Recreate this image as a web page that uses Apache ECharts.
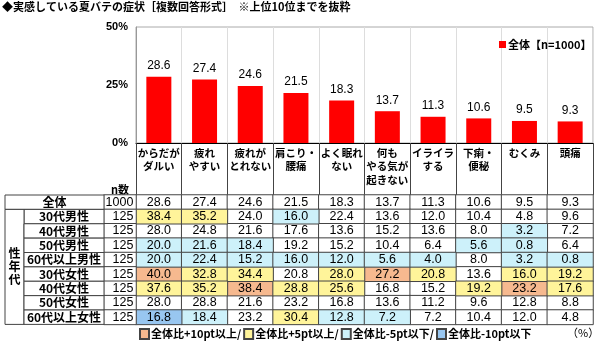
<!DOCTYPE html>
<html>
<head>
<meta charset="utf-8">
<script src="https://cdn.jsdelivr.net/npm/echarts@6/dist/echarts.min.js"></script>
<style>
html,body{margin:0;padding:0;background:#fff;}
#chart{width:600px;height:341px;}
</style>
</head>
<body>
<div id="chart"></div>
<script>
// Symptoms (top 10), shared by the bar chart and the table columns
const categories = ['からだが\nダルい', '疲れ\nやすい', '疲れが\nとれない', '肩こり・\n腰痛', 'よく眠れ\nない', '何も\nやる気が\n起きない', 'イライラ\nする', '下痢・\n便秘', 'むくみ', '頭痛'];

// Whole sample (%)
const totalValues = [28.6, 27.4, 24.6, 21.5, 18.3, 13.7, 11.3, 10.6, 9.5, 9.3];

// Gender x age groups (%)
const male30s   = [38.4, 35.2, 24.0, 16.0, 22.4, 13.6, 12.0, 10.4, 4.8, 9.6];
const male40s   = [28.0, 24.8, 21.6, 17.6, 13.6, 15.2, 13.6, 8.0, 3.2, 7.2];
const male50s   = [20.0, 21.6, 18.4, 19.2, 15.2, 10.4, 6.4, 5.6, 0.8, 6.4];
const male60up  = [20.0, 22.4, 15.2, 16.0, 12.0, 5.6, 4.0, 8.0, 3.2, 0.8];
const female30s = [40.0, 32.8, 34.4, 20.8, 28.0, 27.2, 20.8, 13.6, 16.0, 19.2];
const female40s = [37.6, 35.2, 38.4, 28.8, 25.6, 16.8, 15.2, 19.2, 23.2, 17.6];
const female50s = [28.0, 28.8, 21.6, 23.2, 16.8, 13.6, 11.2, 9.6, 12.8, 8.8];
const female60up= [16.8, 18.4, 23.2, 30.4, 12.8, 7.2, 7.2, 10.4, 12.0, 4.8];

// Table rows
const rowNames = ['全体', '30代男性', '40代男性', '50代男性', '60代以上男性', '30代女性', '40代女性', '50代女性', '60代以上女性'];
const rowN = [1000, 125, 125, 125, 125, 125, 125, 125, 125];
const rowValues = [totalValues, male30s, male40s, male50s, male60up, female30s, female40s, female50s, female60up];

// Y axis ticks (%)
const yMin = 0, yMax = 50, yStep = 25;

const seriesName = '全体【n=1000】';
const groupLabel = '性\n年\n代';
const nHeader = 'n数';

// Highlight classes relative to the whole sample
const classes = [
  { key: 'none', name: '', color: '#ffffff' },
  { key: 'p10', name: '全体比+10pt以上', color: '#F6B98F' },
  { key: 'p5',  name: '全体比+5pt以上',  color: '#FFF49A' },
  { key: 'm5',  name: '全体比-5pt以下',  color: '#CDF1FA' },
  { key: 'm10', name: '全体比-10pt以下', color: '#98C6F0' }
];

function classify(row, col) {
  if (row === 0) return 'none';
  const d = Math.round((rowValues[row][col] - totalValues[col]) * 10) / 10;
  if (d >= 10) return 'p10';
  if (d >= 5) return 'p5';
  if (d <= -10) return 'm10';
  if (d <= -5) return 'm5';
  return 'none';
}

const FONT = '"Liberation Sans", "Noto Sans CJK JP", sans-serif';
const JFONT = '"Noto Sans CJK JP", "Liberation Sans", sans-serif';
const BORDER = '#444';

// Table layout
const tableTop = 195, tableH = 129.4;
const plotLeft = 136, plotRight = 7;
const groupColW = 19;

const cellSeries = classes.map(cls => {
  const data = [];
  rowValues.forEach((vals, r) => {
    vals.forEach((v, c) => {
      if (classify(r, c) === cls.key) data.push([c, r, v]);
    });
  });
  return {
    type: 'heatmap',
    name: cls.name || 'ー',
    xAxisIndex: 1,
    yAxisIndex: 1,
    data: data,
    itemStyle: { color: cls.color, borderColor: BORDER, borderWidth: 1 },
    label: {
      show: true,
      formatter: p => p.value[2].toFixed(1),
      fontFamily: FONT,
      fontSize: 12.5,
      color: '#000'
    },
    emphasis: { disabled: true },
    silent: true
  };
});

const chart = echarts.init(document.getElementById('chart'), null, { renderer: 'canvas' });

chart.setOption({
  backgroundColor: '#fff',
  animation: false,
  title: [
    {
      text: '◆実感している夏バテの症状［複数回答形式］　※上位10位までを抜粋',
      left: 2, top: 1, padding: 0,
      textStyle: { fontFamily: JFONT, fontSize: 11, fontWeight: 'bold', color: '#000' }
    },
    {
      text: '（%）',
      left: 567, top: 327, padding: 0,
      textStyle: { fontFamily: JFONT, fontSize: 11, fontWeight: 'normal', color: '#000' }
    }
  ],
  legend: [
    {
      data: [seriesName],
      left: 499, top: 39, padding: 0,
      icon: 'rect', itemWidth: 7, itemHeight: 7, itemGap: 2,
      selectedMode: false,
      textStyle: { fontFamily: JFONT, fontSize: 11, fontWeight: 'bold', color: '#000', padding: [0, 0, 0, -3] }
    },
    {
      data: classes.slice(1).map(c => c.name),
      left: 139, top: 328, padding: 0,
      icon: 'rect', itemWidth: 9, itemHeight: 10, itemGap: 2,
      selectedMode: false,
      formatter: name => {
        const i = classes.findIndex(c => c.name === name);
        return i < classes.length - 1 ? name + '/' : name;
      },
      textStyle: { fontFamily: JFONT, fontSize: 11, fontWeight: 'bold', color: '#000', padding: [0, 0, 0, -3] }
    }
  ],
  grid: [
    { left: plotLeft, right: plotRight, top: 27, height: 116, show: true, borderColor: '#aaa', borderWidth: 1, backgroundColor: '#fff' },
    { left: plotLeft, right: plotRight, top: tableTop, height: tableH },
    { left: 104, width: 32, top: tableTop, height: tableH },
    { left: 5, width: 99, top: tableTop, height: tableH }
  ],
  xAxis: [
    {
      type: 'category', gridIndex: 0, data: categories,
      axisLine: { show: true, lineStyle: { color: '#000', width: 1 } },
      axisTick: { show: true, interval: 0, length: 52, lineStyle: { color: BORDER, width: 1 } },
      splitLine: { show: true, interval: 0, lineStyle: { color: '#ddd', width: 1 } },
      axisLabel: {
        interval: 0, margin: 3, color: '#000',
        fontFamily: JFONT, fontSize: 10.5, fontWeight: 'bold', lineHeight: 13.5,
        verticalAlign: 'top'
      }
    },
    { type: 'category', gridIndex: 1, data: categories, show: false },
    {
      type: 'category', gridIndex: 2, data: [nHeader], position: 'top',
      axisLine: { show: false }, axisTick: { show: false },
      axisLabel: { margin: 0, color: '#000', fontFamily: JFONT, fontSize: 11, fontWeight: 'bold' }
    },
    { type: 'category', gridIndex: 3, data: [''], show: false }
  ],
  yAxis: [
    {
      type: 'value', gridIndex: 0, min: yMin, max: yMax, interval: yStep,
      axisLine: { show: true, lineStyle: { color: '#999' } },
      axisTick: { show: false },
      splitLine: { show: false },
      axisLabel: {
        formatter: '{value}%', margin: 8, color: '#000',
        fontFamily: FONT, fontSize: 11, fontWeight: 'bold'
      }
    },
    { type: 'category', gridIndex: 1, data: rowNames, inverse: true, show: false },
    { type: 'category', gridIndex: 2, data: rowNames, inverse: true, show: false },
    { type: 'category', gridIndex: 3, data: rowNames, inverse: true, show: false }
  ],
  series: [
    {
      type: 'bar',
      name: seriesName,
      xAxisIndex: 0, yAxisIndex: 0,
      data: totalValues,
      barWidth: 25,
      itemStyle: { color: '#FF0000' },
      label: {
        show: true, position: 'top', distance: 5,
        formatter: p => p.value.toFixed(1),
        fontFamily: FONT, fontSize: 12, color: '#000'
      },
      silent: true
    },
    ...cellSeries,
    {
      // n column
      type: 'heatmap',
      xAxisIndex: 2, yAxisIndex: 2,
      data: rowN.map((n, r) => [0, r, n]),
      itemStyle: { color: '#fff', borderColor: BORDER, borderWidth: 1 },
      label: {
        show: true, formatter: p => String(p.value[2]),
        position: ['90%', '50%'], align: 'right', verticalAlign: 'middle',
        fontFamily: FONT, fontSize: 12.5, color: '#000'
      },
      silent: true
    },
    {
      // row labels with the merged gender/age column
      type: 'custom',
      xAxisIndex: 3, yAxisIndex: 3,
      data: rowNames.map((n, r) => [0, r]),
      silent: true,
      renderItem: (params, api) => {
        const r = api.value(1);
        const c = api.coord([0, r]);
        const s = api.size([1, 1]);
        const left = c[0] - s[0] / 2, top = c[1] - s[1] / 2;
        const children = [];
        const textStyle = { fontFamily: JFONT, fontSize: 12, fontWeight: 'bold', fill: '#000', align: 'center', verticalAlign: 'middle' };
        if (r === 0) {
          children.push({ type: 'rect', shape: { x: left, y: top, width: s[0], height: s[1] }, style: { fill: '#fff', stroke: BORDER, lineWidth: 1 } });
          children.push({ type: 'text', style: Object.assign({ text: rowNames[r], x: c[0], y: c[1] }, textStyle) });
        } else {
          const x0 = left + groupColW;
          children.push({ type: 'rect', shape: { x: x0, y: top, width: s[0] - groupColW, height: s[1] }, style: { fill: '#fff', stroke: BORDER, lineWidth: 1 } });
          children.push({ type: 'text', style: Object.assign({ text: rowNames[r], x: (x0 + left + s[0]) / 2, y: c[1] }, textStyle) });
          if (r === 1) {
            const h = s[1] * (rowNames.length - 1);
            children.push({ type: 'rect', shape: { x: left, y: top, width: groupColW, height: h }, style: { fill: '#fff', stroke: BORDER, lineWidth: 1 } });
            children.push({ type: 'text', style: Object.assign({ text: groupLabel, x: left + groupColW / 2, y: top + h / 2, lineHeight: 13 }, textStyle) });
          }
        }
        return { type: 'group', children: children };
      }
    }
  ]
});
</script>
</body>
</html>
